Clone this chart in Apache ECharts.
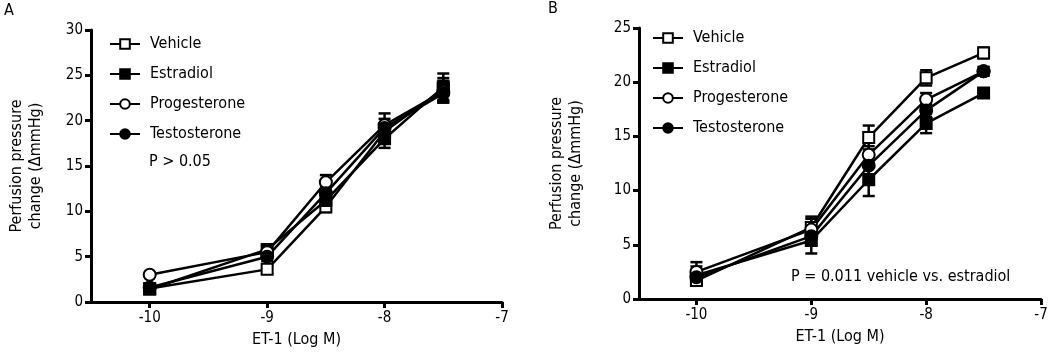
<!DOCTYPE html>
<html>
<head>
<meta charset="utf-8">
<script src="https://cdn.jsdelivr.net/npm/echarts@6/dist/echarts.min.js"></script>
<style>
  html, body { margin: 0; padding: 0; background: #fff; }
  #chart { width: 1052px; height: 354px; }
</style>
</head>
<body>
<div id="chart"></div>
<script>
// ET-1 doses (log M)
const doses = [-10, -9, -8.5, -8, -7.5];
const seriesNames = ['Vehicle', 'Estradiol', 'Progesterone', 'Testosterone'];
const xTicks = [-10, -9, -8, -7];

// panel A : means and SEM
const vehicleA = [1.5, 3.6, 10.5, 18.8, 23.5];
const estradiolA = [1.4, 5.8, 11.2, 18.0, 23.7];
const progesteroneA = [3.0, 5.5, 13.2, 19.5, 23.2];
const testosteroneA = [1.6, 5.0, 12.0, 19.2, 23.0];
const vehicleErrA = [0.3, 0.4, 0.6, 0.8, 1.2];
const estradiolErrA = [0.3, 0.5, 0.8, 1.0, 1.5];
const progesteroneErrA = [0.2, 0.4, 0.8, 1.3, 1.2];
const testosteroneErrA = [0.3, 0.5, 0.7, 1.0, 1.0];

// panel B : means and SEM
const vehicleB = [1.7, 6.6, 14.9, 20.4, 22.7];
const estradiolB = [2.2, 5.4, 11.0, 16.2, 19.0];
const progesteroneB = [2.5, 6.4, 13.3, 18.4, 21.0];
const testosteroneB = [2.0, 5.8, 12.3, 17.4, 21.0];
const vehicleErrB = [0.3, 1.0, 1.1, 0.7, 0.5];
const estradiolErrB = [0.8, 1.2, 1.5, 0.9, 0.3];
const progesteroneErrB = [0.9, 1.0, 0.8, 0.6, 0.4];
const testosteroneErrB = [0.5, 0.8, 0.8, 0.6, 0.4];

const FONT = "'DejaVu Sans Condensed', 'DejaVu Sans', sans-serif";
const symbols = ['emptyRect', 'rect', 'emptyCircle', 'circle'];
const symbolSizes = [11, 11, 12, 12];

const chart = echarts.init(document.getElementById('chart'));

function xAxisFor(grid) {
  return {
    type: 'value', gridIndex: grid, min: -10.5, max: -7,
    name: 'ET-1 (Log M)', nameLocation: 'middle', nameGap: 30,
    nameTextStyle: {color: '#000', fontSize: 16, fontFamily: FONT},
    axisLine: {show: true, onZero: false, lineStyle: {color: '#000', width: 3}},
    axisTick: {show: true, length: 6, lineStyle: {color: '#000', width: 3}, customValues: xTicks},
    axisLabel: {color: '#000', fontSize: 15, fontFamily: FONT, margin: 9, customValues: xTicks},
    splitLine: {show: false}
  };
}

function yAxisFor(grid, max, gap) {
  return {
    type: 'value', gridIndex: grid, min: 0, max: max, interval: 5,
    name: 'Perfusion pressure\nchange (\u0394mmHg)', nameLocation: 'middle', nameGap: gap,
    nameTextStyle: {color: '#000', fontSize: 16, fontFamily: FONT, lineHeight: 19},
    axisLine: {show: true, lineStyle: {color: '#000', width: 3}},
    axisTick: {show: true, length: 6, lineStyle: {color: '#000', width: 3}},
    axisLabel: {color: '#000', fontSize: 15, fontFamily: FONT, margin: 8},
    splitLine: {show: false}
  };
}

// error bars drawn through the axis scales
function errorBars(grid, means, errs) {
  return {
    type: 'custom', xAxisIndex: grid, yAxisIndex: grid, z: 1, silent: true,
    data: doses.map((d, i) => [d, means[i], errs[i]]),
    renderItem: function (params, api) {
      const x = api.value(0), y = api.value(1), e = api.value(2);
      const top = api.coord([x, y + e]);
      const bot = api.coord([x, y - e]);
      const st = {stroke: '#000', lineWidth: 2.5};
      return {
        type: 'group', children: [
          {type: 'line', shape: {x1: top[0], y1: top[1], x2: bot[0], y2: bot[1]}, style: st},
          {type: 'line', shape: {x1: top[0] - 6, y1: top[1], x2: top[0] + 6, y2: top[1]}, style: st},
          {type: 'line', shape: {x1: bot[0] - 6, y1: bot[1], x2: bot[0] + 6, y2: bot[1]}, style: st}
        ]
      };
    }
  };
}

function lineSeries(grid, idx, means) {
  return {
    type: 'line', name: seriesNames[idx], xAxisIndex: grid, yAxisIndex: grid, z: 3,
    data: doses.map((d, i) => [d, means[i]]),
    symbol: symbols[idx], symbolSize: symbolSizes[idx], showSymbol: true,
    lineStyle: {color: '#000', width: 2.5},
    itemStyle: {color: '#000', borderColor: '#000', borderWidth: 2},
    animation: false
  };
}

const meansA = [vehicleA, estradiolA, progesteroneA, testosteroneA];
const errsA = [vehicleErrA, estradiolErrA, progesteroneErrA, testosteroneErrA];
const meansB = [vehicleB, estradiolB, progesteroneB, testosteroneB];
const errsB = [vehicleErrB, estradiolErrB, progesteroneErrB, testosteroneErrB];

let series = [];
for (let i = 0; i < 4; i++) {
  series.push(errorBars(0, meansA[i], errsA[i]));
  series.push(errorBars(1, meansB[i], errsB[i]));
}
for (let i = 0; i < 4; i++) {
  series.push(lineSeries(0, i, meansA[i]));
  series.push(lineSeries(1, i, meansB[i]));
}

function legendAt(left, top) {
  return {
    data: seriesNames, orient: 'vertical', left: left, top: top,
    itemWidth: 30, itemHeight: 12, itemGap: 14, selectedMode: false,
    textStyle: {color: '#000', fontSize: 16, fontFamily: FONT, padding: [0, 0, 0, 5]}
  };
}

const option = {
  animation: false,
  backgroundColor: '#fff',
  grid: [
    {left: 91, top: 30, width: 411, height: 272},
    {left: 639, top: 28, width: 402, height: 271}
  ],
  xAxis: [xAxisFor(0), xAxisFor(1)],
  yAxis: [yAxisFor(0, 30, 46), yAxisFor(1, 25, 54)],
  legend: [legendAt(104, 31), legendAt(647, 25)],
  graphic: [
    {type: 'text', left: 4, top: 3, style: {text: 'A', fill: '#000', fontSize: 16, fontFamily: FONT}},
    {type: 'text', left: 548, top: 1, style: {text: 'B', fill: '#000', fontSize: 16, fontFamily: FONT}},
    {type: 'text', left: 149, top: 154, style: {text: 'P > 0.05', fill: '#000', fontSize: 16, fontFamily: FONT}},
    {type: 'text', left: 791, top: 269, style: {text: 'P = 0.011 vehicle vs. estradiol', fill: '#000', fontSize: 16, fontFamily: FONT}}
  ],
  series: series
};

chart.setOption(option);
</script>
</body>
</html>
